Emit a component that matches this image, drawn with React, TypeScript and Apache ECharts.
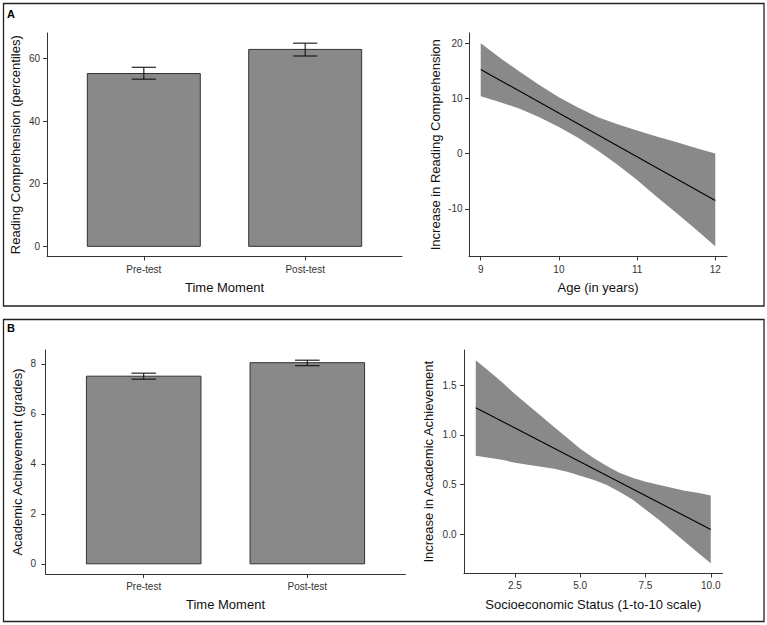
import React, { useEffect, useRef } from "react";
import * as echarts from "echarts";

// ---- Data ----
const timeCategories = ["Pre-test", "Post-test"];
const readingMeans = [55.2, 62.9];
const readingLower = [53.4, 60.8];
const readingUpper = [57.2, 64.9];

const achievementMeans = [7.51, 8.05];
const achievementLower = [7.39, 7.93];
const achievementUpper = [7.63, 8.15];

const ageX = [9, 9.25, 9.5, 9.75, 10, 10.25, 10.5, 10.75, 11, 11.25, 11.5, 11.75, 12];
const ageBandUpper = [20.0, 17.3, 14.8, 12.4, 10.2, 8.3, 6.6, 5.3, 4.2, 3.1, 2.1, 1.0, 0.0];
const ageBandLower = [10.4, 9.3, 8.1, 6.6, 4.8, 2.8, 0.5, -2.0, -4.8, -7.8, -10.7, -13.7, -16.8];
const ageFitX = [9, 12];
const ageFitY = [15.23, -8.5];
const ageTicks = [9, 10, 11, 12];
const readingIncreaseTicks = [-10, 0, 10, 20];
const readingTicks = [0, 20, 40, 60];

const sesX = [1, 1.5, 2, 2.5, 3, 3.5, 4, 4.5, 5, 5.5, 6, 6.5, 7, 7.5, 8, 8.5, 9, 9.5, 10];
const sesBandUpper = [1.75, 1.64, 1.53, 1.41, 1.3, 1.19, 1.08, 0.97, 0.86, 0.77, 0.69, 0.62, 0.57, 0.53, 0.5, 0.47, 0.44, 0.42, 0.39];
const sesBandLower = [0.79, 0.77, 0.75, 0.72, 0.7, 0.68, 0.66, 0.63, 0.59, 0.55, 0.5, 0.43, 0.35, 0.25, 0.15, 0.04, -0.07, -0.18, -0.29];
const sesFitX = [1, 10];
const sesFitY = [1.273, 0.05];
const sesTicks = [2.5, 5, 7.5, 10];
const achievementIncreaseTicks = [0, 0.5, 1, 1.5];
const achievementTicks = [0, 2, 4, 6, 8];

const FONT = "'Liberation Sans', Arial, Helvetica, sans-serif";
const AXIS_COLOR = "#333";
const LABEL_COLOR = "#333";
const FILL = "#898989";

function barRenderer(params: any, api: any) {
  const x = api.value(0);
  const y = api.value(1);
  const lo = api.value(2);
  const hi = api.value(3);
  const p0 = api.coord([x - 0.35, 0]);
  const p1 = api.coord([x + 0.35, y]);
  const e0 = api.coord([x, lo]);
  const e1 = api.coord([x, hi]);
  const cL = api.coord([x - 0.075, hi]);
  const cR = api.coord([x + 0.075, hi]);
  const cL2 = api.coord([x - 0.075, lo]);
  const cR2 = api.coord([x + 0.075, lo]);
  const lineStyle = { stroke: "#111", lineWidth: 1.1 };
  return {
    type: "group",
    children: [
      {
        type: "rect",
        shape: { x: p0[0], y: p1[1], width: p1[0] - p0[0], height: p0[1] - p1[1] },
        style: { fill: FILL, stroke: "#333", lineWidth: 1 },
      },
      { type: "line", shape: { x1: e0[0], y1: e0[1], x2: e1[0], y2: e1[1] }, style: lineStyle },
      { type: "line", shape: { x1: cL[0], y1: cL[1], x2: cR[0], y2: cR[1] }, style: lineStyle },
      { type: "line", shape: { x1: cL2[0], y1: cL2[1], x2: cR2[0], y2: cR2[1] }, style: lineStyle },
    ],
  };
}

function makeBandRenderer(xs: number[], upper: number[], lower: number[]) {
  return (params: any, api: any) => {
    if (params.dataIndex !== 0) return null;
    const pts: number[][] = [];
    for (let i = 0; i < xs.length; i++) pts.push(api.coord([xs[i], upper[i]]));
    for (let i = xs.length - 1; i >= 0; i--) pts.push(api.coord([xs[i], lower[i]]));
    return {
      type: "polygon",
      shape: { points: pts },
      style: { fill: FILL, stroke: "none" },
    };
  };
}

function valueAxis(gridIndex: number, min: number, max: number, ticks: number[], fmt: (v: number) => string, name: string, nameGap: number, labelMargin: number) {
  return {
    type: "value",
    gridIndex,
    min,
    max,
    name,
    nameLocation: "middle",
    nameGap,
    nameTextStyle: { fontFamily: FONT, fontSize: 13, color: "#111" },
    axisLine: { show: true, onZero: false, lineStyle: { color: AXIS_COLOR, width: 1 } },
    axisTick: { show: true, length: 4, customValues: ticks, lineStyle: { color: AXIS_COLOR, width: 1 } },
    axisLabel: {
      show: true,
      customValues: ticks,
      formatter: fmt,
      fontFamily: FONT,
      fontSize: 10,
      color: LABEL_COLOR,
      margin: labelMargin,
      showMinLabel: true,
      showMaxLabel: true,
    },
    splitLine: { show: false },
  };
}

const intFmt = (v: number) => String(v);
const oneDec = (v: number) => v.toFixed(1);
const catFmt = (v: number) => timeCategories[Math.round(v) - 1] ?? "";

export default function App() {
  const ref = useRef<HTMLDivElement>(null);
  useEffect(() => {
    if (!ref.current) return;
    const chart = echarts.init(ref.current, null, { renderer: "svg" });
    const barDataA = readingMeans.map((m, i) => [i + 1, m, readingLower[i], readingUpper[i]]);
    const barDataB = achievementMeans.map((m, i) => [i + 1, m, achievementLower[i], achievementUpper[i]]);
    const option: any = {
      animation: false,
      backgroundColor: "#fff",
      textStyle: { fontFamily: FONT },
      grid: [
        { left: 47, top: 33, width: 355, height: 223.5 },
        { left: 469, top: 33, width: 258, height: 223.5 },
        { left: 45.5, top: 350, width: 360, height: 224 },
        { left: 464, top: 350, width: 258.5, height: 223.5 },
      ],
      xAxis: [
        valueAxis(0, 0.4, 2.6, [1, 2], catFmt, "Time Moment", 24, 8),
        valueAxis(1, 8.85, 12.15, ageTicks, intFmt, "Age (in years)", 24, 8),
        valueAxis(2, 0.4, 2.6, [1, 2], catFmt, "Time Moment", 24, 7),
        valueAxis(3, 0.55, 10.45, sesTicks, oneDec, "Socioeconomic Status (1-to-10 scale)", 24, 7),
      ],
      yAxis: [
        valueAxis(0, -3.245, 68.145, readingTicks, intFmt, "Reading Comprehension (percentiles)", 25, 7),
        valueAxis(1, -18.64, 21.84, readingIncreaseTicks, intFmt, "Increase in Reading Comprehension", 27, 6.5),
        valueAxis(2, -0.4075, 8.5575, achievementTicks, intFmt, "Academic Achievement (grades)", 22, 9.5),
        valueAxis(3, -0.392, 1.852, achievementIncreaseTicks, oneDec, "Increase in Academic Achievement", 29, 7.5),
      ],
      series: [
        {
          type: "custom",
          xAxisIndex: 0,
          yAxisIndex: 0,
          data: barDataA,
          renderItem: barRenderer,
          encode: { x: 0, y: 1 },
          silent: true,
        },
        {
          type: "custom",
          xAxisIndex: 1,
          yAxisIndex: 1,
          data: ageX.map((x, i) => [x, ageBandUpper[i], ageBandLower[i]]),
          renderItem: makeBandRenderer(ageX, ageBandUpper, ageBandLower),
          encode: { x: 0, y: 1 },
          silent: true,
        },
        {
          type: "line",
          xAxisIndex: 1,
          yAxisIndex: 1,
          data: ageFitX.map((x, i) => [x, ageFitY[i]]),
          showSymbol: false,
          symbol: "none",
          lineStyle: { color: "#000", width: 1.1 },
          silent: true,
        },
        {
          type: "custom",
          xAxisIndex: 2,
          yAxisIndex: 2,
          data: barDataB,
          renderItem: barRenderer,
          encode: { x: 0, y: 1 },
          silent: true,
        },
        {
          type: "custom",
          xAxisIndex: 3,
          yAxisIndex: 3,
          data: sesX.map((x, i) => [x, sesBandUpper[i], sesBandLower[i]]),
          renderItem: makeBandRenderer(sesX, sesBandUpper, sesBandLower),
          encode: { x: 0, y: 1 },
          silent: true,
        },
        {
          type: "line",
          xAxisIndex: 3,
          yAxisIndex: 3,
          data: sesFitX.map((x, i) => [x, sesFitY[i]]),
          showSymbol: false,
          symbol: "none",
          lineStyle: { color: "#000", width: 1.1 },
          silent: true,
        },
      ],
      graphic: [
        {
          type: "rect",
          shape: { x: 3.5, y: 3.5, width: 760.5, height: 302.5 },
          style: { fill: "none", stroke: "#222", lineWidth: 1.3 },
          silent: true,
        },
        {
          type: "rect",
          shape: { x: 3.5, y: 319.5, width: 760.5, height: 302 },
          style: { fill: "none", stroke: "#222", lineWidth: 1.3 },
          silent: true,
        },
        {
          type: "text",
          left: 7,
          top: 8,
          style: { text: "A", fontFamily: FONT, fontSize: 11, fontWeight: "bold", fill: "#000" },
        },
        {
          type: "text",
          left: 7,
          top: 322,
          style: { text: "B", fontFamily: FONT, fontSize: 11, fontWeight: "bold", fill: "#000" },
        },
      ],
    };
    chart.setOption(option);
    return () => chart.dispose();
  }, []);
  return (
    <div
      ref={ref}
      style={{ position: "fixed", left: 0, top: 0, width: 767, height: 625, background: "#fff" }}
    />
  );
}
